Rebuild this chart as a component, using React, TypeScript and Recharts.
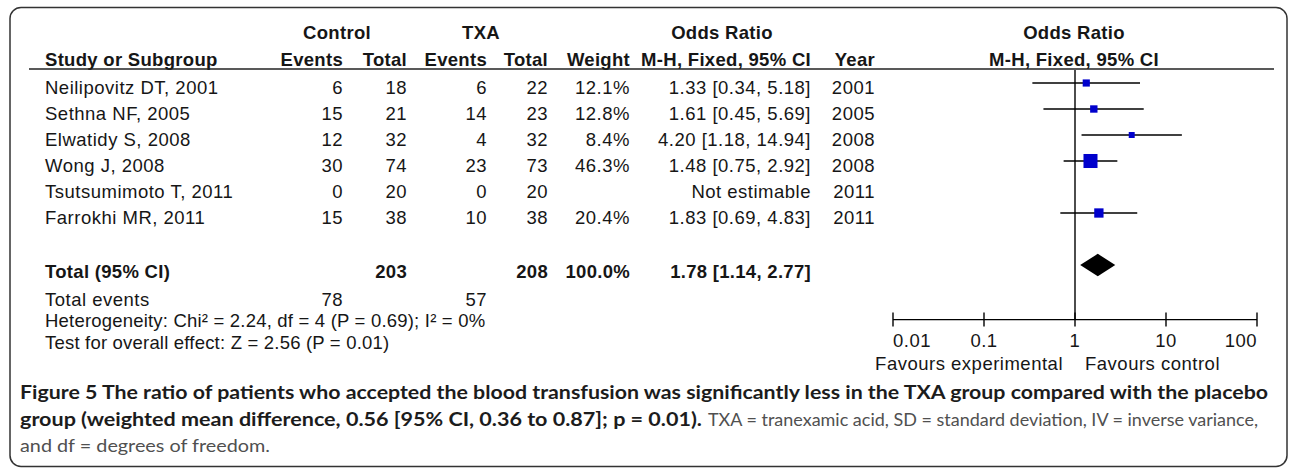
import { ScatterChart, Scatter, XAxis, YAxis, ErrorBar, ReferenceLine } from 'recharts'

const studies = [
  'Neilipovitz DT, 2001',
  'Sethna NF, 2005',
  'Elwatidy S, 2008',
  'Wong J, 2008',
  'Tsutsumimoto T, 2011',
  'Farrokhi MR, 2011',
]
const ctrlEvents = [6, 15, 12, 30, 0, 15]
const ctrlTotal = [18, 21, 32, 74, 20, 38]
const txaEvents = [6, 14, 4, 23, 0, 10]
const txaTotal = [22, 23, 32, 73, 20, 38]
const weights: (number | null)[] = [12.1, 12.8, 8.4, 46.3, null, 20.4]
const oddsRatio: (number | null)[] = [1.33, 1.61, 4.2, 1.48, null, 1.83]
const ciLow: (number | null)[] = [0.34, 0.45, 1.18, 0.75, null, 0.69]
const ciHigh: (number | null)[] = [5.18, 5.69, 14.94, 2.92, null, 4.83]
const years = [2001, 2005, 2008, 2008, 2011, 2011]

const totalCtrl = 203
const totalTxa = 208
const totalWeight = 100.0
const totalOR = 1.78
const totalLow = 1.14
const totalHigh = 2.77
const totalEventsCtrl = 78
const totalEventsTxa = 57
const heterogeneity = 'Heterogeneity: Chi² = 2.24, df = 4 (P = 0.69); I² = 0%'
const overallTest = 'Test for overall effect: Z = 2.56 (P = 0.01)'

const axisTicks = [0.01, 0.1, 1, 10, 100]
const TOTAL_ROW = 7

const FONT = "'Liberation Sans', Arial, sans-serif"
const INK = '#161616'

// rows on the y axis: 26px per row, first row centre at y=83
const ROW_H = 26
const PLOT_TOP = 70
const Y_DOMAIN: [number, number] = [-0.5, 9.1]
const PLOT_BOTTOM = PLOT_TOP + (Y_DOMAIN[1] - Y_DOMAIN[0]) * ROW_H
const X_AXIS_H = 40

const fmt2 = (v: number) => v.toFixed(2)
const orText = (o: number | null, lo: number | null, hi: number | null) =>
  o == null || lo == null || hi == null ? 'Not estimable' : `${fmt2(o)} [${fmt2(lo)}, ${fmt2(hi)}]`

const studyPoints = studies
  .map((_, i) => ({
    x: oddsRatio[i],
    y: i,
    w: weights[i],
    err: oddsRatio[i] == null ? null : [oddsRatio[i]! - ciLow[i]!, ciHigh[i]! - oddsRatio[i]!],
  }))
  .filter((p) => p.x != null)

const DIAMOND_HALF = 0.43
const diamondPoints = [
  { x: totalLow, y: TOTAL_ROW },
  { x: totalOR, y: TOTAL_ROW - DIAMOND_HALF },
  { x: totalHigh, y: TOTAL_ROW },
  { x: totalOR, y: TOTAL_ROW + DIAMOND_HALF },
]

function WeightSquare(props: any) {
  const { cx, cy, payload } = props
  const s = 2.06 * Math.sqrt(payload.w)
  return <rect x={cx - s / 2} y={cy - s / 2} width={s} height={s} fill="#0000cc" />
}

function LogTick(props: any) {
  const { x, y, payload, index } = props
  const anchor = index === 0 ? 'start' : index === axisTicks.length - 1 ? 'end' : 'middle'
  return (
    <g>
      <line x1={x} x2={x} y1={y - 7} y2={y + 7} stroke="#000" strokeWidth={1.4} />
      <text x={x} y={y + 27} textAnchor={anchor} fontFamily={FONT} fontSize={18.5} letterSpacing={0.5} fill={INK}>
        {payload.value}
      </text>
    </g>
  )
}

function DiamondLine(props: any) {
  const pts = (props.points || []).map((p: any) => `${p.x},${p.y}`).join(' ')
  return <polygon points={pts} fill="#000" stroke="none" />
}

// right edges of the numeric columns
const COL = { cEv: 343, cTot: 407, tEv: 487, tTot: 548, weight: 630, or: 811, year: 875 }

function Table() {
  const rowBase = (i: number) => 94.3 + ROW_H * i
  const txt = { fontFamily: FONT, fontSize: 18.5, letterSpacing: 0.5, fill: INK }
  const bold = { ...txt, fontWeight: 700, letterSpacing: 0.3 }
  return (
    <svg width={1290} height={471} style={{ position: 'absolute', left: 0, top: 0 }}>
      <rect x={10} y={7.5} width={1277} height={459} rx={11} fill="#fff" stroke="#333" strokeWidth={1.5} />

      <text {...bold} x={337} y={39} textAnchor="middle">Control</text>
      <text {...bold} x={481} y={39} textAnchor="middle">TXA</text>
      <text {...bold} x={722} y={39} textAnchor="middle">Odds Ratio</text>
      <text {...bold} x={1074} y={39} textAnchor="middle">Odds Ratio</text>

      <text {...bold} x={45} y={66}>Study or Subgroup</text>
      <text {...bold} x={COL.cEv} y={66} textAnchor="end">Events</text>
      <text {...bold} x={COL.cTot} y={66} textAnchor="end">Total</text>
      <text {...bold} x={COL.tEv} y={66} textAnchor="end">Events</text>
      <text {...bold} x={COL.tTot} y={66} textAnchor="end">Total</text>
      <text {...bold} x={COL.weight} y={66} textAnchor="end">Weight</text>
      <text {...bold} x={COL.or} y={66} textAnchor="end">M-H, Fixed, 95% CI</text>
      <text {...bold} x={COL.year} y={66} textAnchor="end">Year</text>
      <text {...bold} x={1074} y={66} textAnchor="middle">M-H, Fixed, 95% CI</text>
      <line x1={29} x2={1274} y1={69} y2={69} stroke="#222" strokeWidth={1.6} />

      {studies.map((s, i) => (
        <g key={s}>
          <text {...txt} x={45} y={rowBase(i)}>{s}</text>
          <text {...txt} x={COL.cEv} y={rowBase(i)} textAnchor="end">{ctrlEvents[i]}</text>
          <text {...txt} x={COL.cTot} y={rowBase(i)} textAnchor="end">{ctrlTotal[i]}</text>
          <text {...txt} x={COL.tEv} y={rowBase(i)} textAnchor="end">{txaEvents[i]}</text>
          <text {...txt} x={COL.tTot} y={rowBase(i)} textAnchor="end">{txaTotal[i]}</text>
          <text {...txt} x={COL.weight} y={rowBase(i)} textAnchor="end">
            {weights[i] == null ? '' : `${weights[i]!.toFixed(1)}%`}
          </text>
          <text {...txt} x={COL.or} y={rowBase(i)} textAnchor="end">{orText(oddsRatio[i], ciLow[i], ciHigh[i])}</text>
          <text {...txt} x={COL.year} y={rowBase(i)} textAnchor="end">{years[i]}</text>
        </g>
      ))}

      <text {...bold} x={45} y={278}>Total (95% CI)</text>
      <text {...bold} x={COL.cTot} y={278} textAnchor="end">{totalCtrl}</text>
      <text {...bold} x={COL.tTot} y={278} textAnchor="end">{totalTxa}</text>
      <text {...bold} x={COL.weight} y={278} textAnchor="end">{`${totalWeight.toFixed(1)}%`}</text>
      <text {...bold} x={COL.or} y={278} textAnchor="end">{orText(totalOR, totalLow, totalHigh)}</text>

      <text {...txt} x={45} y={305.5}>Total events</text>
      <text {...txt} x={COL.cEv} y={305.5} textAnchor="end">{totalEventsCtrl}</text>
      <text {...txt} x={COL.tEv} y={305.5} textAnchor="end">{totalEventsTxa}</text>
      <text {...txt} x={45} y={327} letterSpacing={0.2}>{heterogeneity}</text>
      <text {...txt} x={45} y={349} letterSpacing={0.2}>{overallTest}</text>

      <text {...txt} x={1063} y={369.5} textAnchor="end">Favours experimental</text>
      <text {...txt} x={1085} y={369.5}>Favours control</text>

      <g fontFamily="Lato, 'Open Sans', sans-serif" fontSize={18}>
        <text x={20} y={399} fontWeight={700} fill="#1c1c1c" textLength={1248} lengthAdjust="spacingAndGlyphs">
          Figure 5 The ratio of patients who accepted the blood transfusion was significantly less in the TXA group compared with the placebo
        </text>
        <text x={20} y={426} fontWeight={700} fill="#1c1c1c" textLength={682} lengthAdjust="spacingAndGlyphs">
          group (weighted mean difference, 0.56 [95% CI, 0.36 to 0.87]; p = 0.01).
        </text>
        <text x={708} y={426} fill="#505050" textLength={550} lengthAdjust="spacingAndGlyphs">
          TXA = tranexamic acid, SD = standard deviation, IV = inverse variance,
        </text>
        <text x={20} y={452} fill="#505050" textLength={250} lengthAdjust="spacingAndGlyphs">
          and df = degrees of freedom.
        </text>
      </g>
    </svg>
  )
}

export default function App() {
  return (
    <div style={{ position: 'relative', width: 1290, height: 471, background: '#fff' }}>
      <style>{'body{margin:0}'}</style>
      <Table />
      <div style={{ position: 'absolute', left: 0, top: 0 }}>
        <ScatterChart
          width={1290}
          height={471}
          margin={{ top: PLOT_TOP, left: 893, right: 1290 - 1257, bottom: 471 - PLOT_BOTTOM - X_AXIS_H }}
        >
          <XAxis
            dataKey="x"
            type="number"
            scale="log"
            domain={[0.01, 100]}
            ticks={axisTicks}
            allowDataOverflow
            height={X_AXIS_H}
            axisLine={{ stroke: '#000', strokeWidth: 1.4 }}
            tickLine={false}
            tickSize={0}
            tickMargin={0}
            tick={<LogTick />}
            interval={0}
          />
          <YAxis dataKey="y" type="number" domain={Y_DOMAIN} reversed hide width={0} allowDataOverflow />
          <ReferenceLine x={1} stroke="#000" strokeWidth={1.4} />
          <Scatter data={studyPoints} shape={<WeightSquare />} isAnimationActive={false}>
            <ErrorBar dataKey="err" direction="x" width={0} stroke="#000" strokeWidth={1.4} />
          </Scatter>
          <Scatter
            data={diamondPoints}
            shape={() => <g />}
            line={(p: any) => <DiamondLine {...p} />}
            lineType="joint"
            isAnimationActive={false}
          />
        </ScatterChart>
      </div>
    </div>
  )
}
